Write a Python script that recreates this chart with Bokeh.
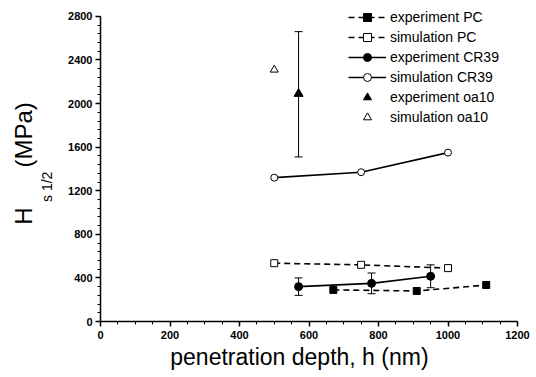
from bokeh.plotting import figure
from bokeh.models import (Range1d, SingleIntervalTicker, Whisker, TeeHead, ColumnDataSource,
                          Legend, LegendItem, Title)
from bokeh.embed import file_html
from bokeh.resources import INLINE

# ---- data ----
exp_pc_h = [670, 910, 1110]
exp_pc_H = [290, 280, 335]

sim_pc_h = [500, 750, 1000]
sim_pc_H = [535, 520, 490]

exp_cr_h = [570, 780, 950]
exp_cr_H = [320, 350, 415]
exp_cr_err = [80, 95, 105]

sim_cr_h = [500, 750, 1000]
sim_cr_H = [1320, 1370, 1550]

exp_oa_h = [570]
exp_oa_H = [2090]
exp_oa_err_up = [570]
exp_oa_err_dn = [580]

sim_oa_h = [500]
sim_oa_H = [2310]

x_ticks_interval = 200
y_ticks_interval = 400

FONT = "Liberation Sans"
NB = "\u00a0"

p = figure(width=536, height=377, output_backend="svg", toolbar_location=None,
           x_range=Range1d(0, 1200), y_range=Range1d(0, 2900),
           min_border_left=100, min_border_right=19, min_border_top=5, min_border_bottom=56)
p.outline_line_color = None
p.xgrid.visible = False
p.ygrid.visible = False
p.background_fill_color = "white"
p.border_fill_color = "white"

for ax in (p.xaxis[0], p.yaxis[0]):
    ax.axis_line_width = 1.5
    ax.axis_line_color = "black"
    ax.major_tick_line_color = "black"
    ax.minor_tick_line_color = "black"
    ax.major_tick_line_width = 1.5
    ax.minor_tick_line_width = 1
    ax.major_tick_out = 5
    ax.major_tick_in = 0
    ax.minor_tick_out = 3
    ax.minor_tick_in = 0
    ax.major_label_text_font = FONT
    ax.major_label_text_font_size = "11px"
    ax.major_label_text_font_style = "bold"
    ax.major_label_text_color = "black"
    ax.axis_label_text_font = FONT
    ax.axis_label_text_font_style = "normal"
    ax.axis_label_text_color = "black"

p.xaxis[0].bounds = (0, 1200)
p.yaxis[0].bounds = (0, 2800)
p.xaxis[0].ticker = SingleIntervalTicker(interval=x_ticks_interval, num_minor_ticks=4)
p.yaxis[0].ticker = SingleIntervalTicker(interval=y_ticks_interval, num_minor_ticks=5)
p.xaxis[0].major_label_standoff = 4
p.yaxis[0].major_label_standoff = 3

p.xaxis[0].axis_label = "penetration depth, h (nm)" + NB * 3
p.xaxis[0].axis_label_text_font_size = "23px"
p.xaxis[0].axis_label_standoff = 2

# subscript part of the y title, shifted down with trailing no-break spaces
p.yaxis[0].axis_label = "s 1/2" + NB * 12
p.yaxis[0].axis_label_text_font_size = "14px"
p.yaxis[0].axis_label_standoff = 10
p.yaxis[0].axis_label_text_line_height = 0.8

p.add_layout(Title(text="H" + NB * 6 + "(MPa)", align="center", offset=-6, standoff=0,
                   text_font=FONT, text_font_size="24px", text_font_style="normal",
                   text_line_height=0.7, text_color="black"), "left")

# ---- series ----
r_epc_l = p.line(exp_pc_h, exp_pc_H, line_color="black", line_width=1.6, line_dash="6 4")
r_epc_m = p.scatter(exp_pc_h, exp_pc_H, marker="square", size=7, fill_color="black", line_color="black")

r_spc_l = p.line(sim_pc_h, sim_pc_H, line_color="black", line_width=1.6, line_dash="6 4")
r_spc_m = p.scatter(sim_pc_h, sim_pc_H, marker="square", size=7, fill_color="white", line_color="black")

r_ecr_l = p.line(exp_cr_h, exp_cr_H, line_color="black", line_width=1.6)
r_ecr_m = p.scatter(exp_cr_h, exp_cr_H, marker="circle", size=8, fill_color="black", line_color="black")

r_scr_l = p.line(sim_cr_h, sim_cr_H, line_color="black", line_width=1.6)
r_scr_m = p.scatter(sim_cr_h, sim_cr_H, marker="circle", size=7, fill_color="white", line_color="black")

r_eoa = p.scatter(exp_oa_h, exp_oa_H, marker="triangle", size=9, fill_color="black", line_color="black")
r_soa = p.scatter(sim_oa_h, sim_oa_H, marker="triangle", size=8, fill_color="white", line_color="black")

# ---- error bars ----
cr_src = ColumnDataSource(dict(
    x=exp_cr_h,
    upper=[v + e for v, e in zip(exp_cr_H, exp_cr_err)],
    lower=[v - e for v, e in zip(exp_cr_H, exp_cr_err)],
))
oa_src = ColumnDataSource(dict(
    x=exp_oa_h,
    upper=[v + e for v, e in zip(exp_oa_H, exp_oa_err_up)],
    lower=[v - e for v, e in zip(exp_oa_H, exp_oa_err_dn)],
))
for src in (cr_src, oa_src):
    w = Whisker(base="x", upper="upper", lower="lower", source=src, dimension="height",
                line_color="black", line_width=1,
                upper_head=TeeHead(size=8, line_color="black", line_width=1),
                lower_head=TeeHead(size=8, line_color="black", line_width=1))
    p.add_layout(w)

# ---- legend ----
legend = Legend(items=[
    LegendItem(label="experiment PC", renderers=[r_epc_l, r_epc_m]),
    LegendItem(label="simulation PC", renderers=[r_spc_l, r_spc_m]),
    LegendItem(label="experiment CR39", renderers=[r_ecr_l, r_ecr_m]),
    LegendItem(label="simulation CR39", renderers=[r_scr_l, r_scr_m]),
    LegendItem(label="experiment oa10", renderers=[r_eoa]),
    LegendItem(label="simulation oa10", renderers=[r_soa]),
], location=(248, 194))
legend.border_line_color = None
legend.background_fill_alpha = 0
legend.padding = 0
legend.margin = 0
legend.spacing = 0
legend.glyph_width = 38
legend.glyph_height = 20
legend.label_height = 20
legend.label_standoff = 4
legend.label_text_font = FONT
legend.label_text_font_size = "14px"
legend.label_text_color = "black"
p.add_layout(legend)

open("out.html", "w").write(file_html(p, INLINE))
